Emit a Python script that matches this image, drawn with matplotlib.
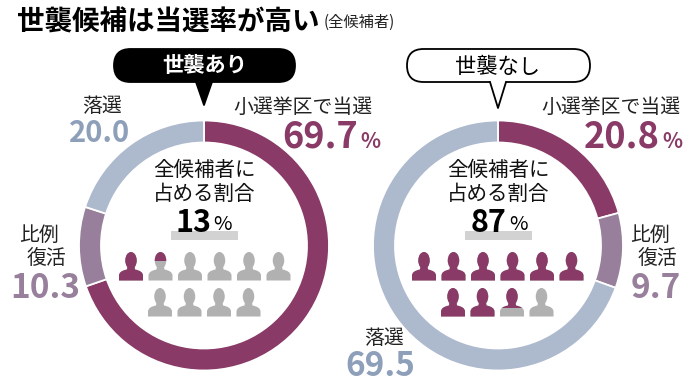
import matplotlib
matplotlib.use('Agg')
import matplotlib.pyplot as plt
from matplotlib.patches import FancyBboxPatch, Polygon, Rectangle, Ellipse, PathPatch
from matplotlib.path import Path

plt.rcParams['font.family'] = ['Noto Sans CJK JP', 'DejaVu Sans']

H = 391
MAROON = '#893a66'
MID = '#98809c'
SLATE = '#adb9cd'
NUM_SLATE = '#8e9fba'
GRAY = '#b1b1b1'
LABEL = '#222222'

title = '世襲候補は当選率が高い'
subtitle = '(全候補者)'
win_label = '小選挙区で当選'
revive_top = '比例'
revive_bottom = '復活'
lose_label = '落選'
with_legacy = [69.7, 10.3, 20.0]
no_legacy = [20.8, 9.7, 69.5]
share_with = 13
share_without = 87
center_text = '全候補者に\n占める割合'

fig = plt.figure(figsize=(6.96, 3.91), dpi=100)
ax = fig.add_axes([0, 0, 1, 1])


def Y(py):
    return H - py


def donut(cx, values):
    ax.pie(values, colors=[MAROON, MID, SLATE], center=(cx, Y(245.5)), radius=125,
           startangle=90, counterclock=False,
           wedgeprops=dict(width=22, edgecolor='white', linewidth=1.3))


def bubble(x0, x1, cx, tip, face):
    top, bot = 49, 82
    r = (bot - top) / 2
    ax.add_patch(FancyBboxPatch((x0 + r, Y(bot) + r), x1 - x0 - 2 * r, 0.01,
                                boxstyle=f'round,pad={r},rounding_size={r}',
                                facecolor=face, edgecolor='black', lw=1.3, zorder=3))
    # pointer over the box, white version hides the outline under it
    ax.add_patch(Polygon([(cx - 8, Y(bot - 1)), (cx + 8, Y(bot - 1)), (cx, Y(tip))], closed=True,
                         facecolor=face, edgecolor='none', zorder=4))
    ax.plot([cx - 8, cx, cx + 8], [Y(bot), Y(tip), Y(bot)], color='black', lw=1.3, zorder=5)


def person(cx, top, fill):
    # fill: how much of the icon (0-1) is coloured, measured from the top
    w, h = 24, 28.5
    bot = Y(top + h)
    t = Y(top)
    verts = [(cx - w / 2, bot), (cx - w / 2, bot + 5), (cx - w / 2, bot + 9.5), (cx - 4, bot + 11),
             (cx - 3.5, bot + 14), (cx + 3.5, bot + 14), (cx + 4, bot + 11),
             (cx + w / 2, bot + 9.5), (cx + w / 2, bot + 5), (cx + w / 2, bot), (cx - w / 2, bot)]
    codes = [Path.MOVETO, Path.LINETO, Path.CURVE3, Path.CURVE3, Path.LINETO, Path.LINETO, Path.LINETO,
             Path.CURVE3, Path.CURVE3, Path.LINETO, Path.CLOSEPOLY]
    for color, y0, y1 in [(GRAY, bot, t), (MAROON, t - h * fill, t)]:
        if y1 <= y0:
            continue
        clip = Rectangle((cx - w, y0), 2 * w, y1 - y0, transform=ax.transData)
        body = PathPatch(Path(verts, codes), facecolor=color, edgecolor='none', zorder=3)
        head = Ellipse((cx, t - 8.5), 11.5, 17, facecolor=color, edgecolor='none', zorder=3)
        ax.add_patch(body)
        ax.add_patch(head)
        body.set_clip_path(clip)
        head.set_clip_path(clip)


def people(x_first, x_second, share):
    amount = share / 10
    xs = [(x_first + i * 29.5, 252) for i in range(6)] + [(x_second + i * 29.5, 288) for i in range(4)]
    for i, (x, top) in enumerate(xs):
        person(x, top, max(0, min(1, amount - i)))


def center_block(cx, share, bar_x0, digits_right):
    ax.text(cx, Y(182), center_text, ha='center', va='center', fontsize=14.8, linespacing=1.12, color='#111111')
    ax.add_patch(Rectangle((bar_x0, Y(240)), 67, 9, facecolor='#d2d2d2', edgecolor='none', zorder=1))
    ax.text(digits_right, Y(223.5), str(share), ha='right', va='center', fontsize=22, fontweight='bold',
            color='black', zorder=2)
    ax.text(digits_right + 2, Y(225), '%', ha='left', va='center', fontsize=14.5, color='black', zorder=2)


def number(x, y, value, color, size=25, ha='center'):
    ax.text(x, Y(y), value, ha=ha, va='center', fontsize=size, fontweight='bold', color=color)


def label(x, y, s, ha='center'):
    ax.text(x, Y(y), s, ha=ha, va='center', fontsize=14.3, color=LABEL)


donut(204, with_legacy)
donut(498, no_legacy)
ax.set_xlim(0, 696)
ax.set_ylim(0, H)
ax.set_aspect('auto')
ax.axis('off')

ax.text(17, Y(23), title, ha='left', va='center', fontsize=19.8, fontweight='bold', color='black')
ax.text(324, Y(22), subtitle, ha='left', va='center', fontsize=11, color=LABEL)

bubble(114, 295, 204, 105, 'black')
ax.text(205, Y(66), '世襲あり', ha='center', va='center', fontsize=15.3, fontweight='bold', color='white', zorder=6)
bubble(407, 590, 498, 108, 'white')
ax.text(497, Y(67), '世襲なし', ha='center', va='center', fontsize=15.3, color='black', zorder=6)

# left donut labels
label(372, 107, win_label, ha='right')
number(358, 137, f'{with_legacy[0]}', MAROON, size=26, ha='right')
ax.text(360, Y(141), '%', ha='left', va='center', fontsize=15, fontweight='bold', color=MAROON)
label(102, 107, lose_label)
number(99.5, 133, f'{with_legacy[2]:.1f}', NUM_SLATE, size=21)
label(39, 235, revive_top)
label(46, 258, revive_bottom)
number(45, 289, f'{with_legacy[1]}', MID, size=24)

# right donut labels
label(680, 107, win_label, ha='right')
number(660, 137, f'{no_legacy[0]}', MAROON, size=26, ha='right')
ax.text(662, Y(141), '%', ha='left', va='center', fontsize=15, fontweight='bold', color=MAROON)
label(650, 235, revive_top)
label(657, 258, revive_bottom)
number(655.5, 289, f'{no_legacy[1]}', MID, size=24)
label(384, 339, lose_label)
number(380, 366, f'{no_legacy[2]}', NUM_SLATE, size=24)

center_block(204, share_with, 171, 211)
center_block(498, share_without, 465, 507)
people(131, 160, share_with)
people(424, 453, share_without)

fig.savefig('out.png', dpi=100, facecolor='white')
